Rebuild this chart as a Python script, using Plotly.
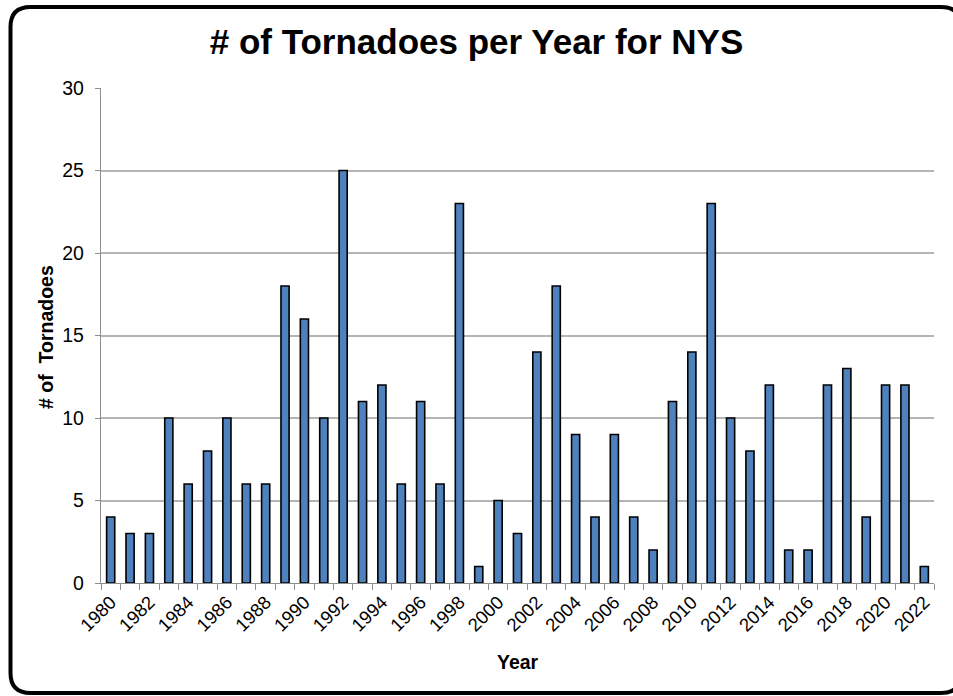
import plotly.graph_objects as go

# Annual tornado counts for New York State
years = list(range(1980, 2023))
tornadoes = [4, 3, 3, 10, 6, 8, 10, 6, 6, 18,
             16, 10, 25, 11, 12, 6, 11, 6, 23, 1,
             5, 3, 14, 18, 9, 4, 9, 4, 2, 11,
             14, 23, 10, 8, 12, 2, 2, 12, 13, 4,
             12, 12, 1]
year_labels = [str(y) for y in years[::2]]
y_ticks = [0, 5, 10, 15, 20, 25, 30]

W, H = 953, 696
ML, MR, MT, MB = 101, 19, 88, 113
PW, PH = W - ML - MR, H - MT - MB


def px(x):
    return (x - ML) / PW


def py(y):
    return (H - MB - y) / PH


def rounded_rect(x0, y0, x1, y1, r):
    pts = [
        ("M", [(x0 + r, y0)]),
        ("L", [(x1 - r, y0)]),
        ("Q", [(x1, y0), (x1, y0 + r)]),
        ("L", [(x1, y1 - r)]),
        ("Q", [(x1, y1), (x1 - r, y1)]),
        ("L", [(x0 + r, y1)]),
        ("Q", [(x0, y1), (x0, y1 - r)]),
        ("L", [(x0, y0 + r)]),
        ("Q", [(x0, y0), (x0 + r, y0)]),
    ]
    out = []
    for cmd, ps in pts:
        out.append(cmd + " " + " ".join(f"{px(a):.5f},{py(b):.5f}" for a, b in ps))
    return " ".join(out) + " Z"


FONT = "Liberation Sans, Arial, sans-serif"
GRID = "#B4B4B4"
AXIS = "#8E8E8E"

fig = go.Figure(
    go.Bar(
        x=years,
        y=tornadoes,
        width=0.42,
        marker=dict(color="#4F81BD", line=dict(color="#000000", width=1.6)),
        hoverinfo="x+y",
    )
)

fig.update_layout(
    width=W,
    height=H,
    margin=dict(l=ML, r=MR, t=MT, b=MB),
    paper_bgcolor="white",
    plot_bgcolor="white",
    showlegend=False,
    font=dict(family=FONT, color="#000000"),
    title=dict(
        text="<b># of Tornadoes per Year for NYS</b>",
        x=0.5,
        xref="container",
        xanchor="center",
        y=1 - 42 / H,
        yref="container",
        yanchor="middle",
        font=dict(size=35, family=FONT, color="#000000"),
    ),
    xaxis=dict(
        range=[1979.5, 2022.5],
        tickmode="array",
        tickvals=years[::2],
        ticktext=year_labels,
        tickangle=-45,
        ticks="",
        tickfont=dict(size=18.5, family=FONT, color="#000000"),
        showgrid=False,
        showline=True,
        linecolor=AXIS,
        linewidth=1.4,
        zeroline=False,
        minor=dict(
            ticks="outside",
            ticklen=6,
            tickwidth=1.4,
            tickcolor=AXIS,
            tick0=1979.5,
            dtick=1,
            showgrid=False,
        ),
    ),
    yaxis=dict(
        range=[0, 30],
        tickmode="array",
        tickvals=y_ticks,
        ticks="outside",
        ticklen=5,
        tickwidth=1.4,
        tickcolor=AXIS,
        ticklabelstandoff=7,
        tickfont=dict(size=19.5, family=FONT, color="#000000"),
        showgrid=True,
        gridcolor=GRID,
        gridwidth=1.6,
        showline=True,
        linecolor=AXIS,
        linewidth=1.4,
        zeroline=False,
    ),
    annotations=[
        dict(
            text="<b>Year</b>",
            xref="paper",
            yref="paper",
            x=0.5,
            y=py(662),
            xanchor="center",
            yanchor="middle",
            showarrow=False,
            font=dict(size=19.5, family=FONT, color="#000000"),
        ),
        dict(
            text="<b># of  Tornadoes</b>",
            xref="paper",
            yref="paper",
            x=px(46),
            y=py(337),
            xanchor="center",
            yanchor="middle",
            textangle=-90,
            showarrow=False,
            font=dict(size=19.5, family=FONT, color="#000000"),
        ),
    ],
    shapes=[
        dict(
            type="path",
            xref="paper",
            yref="paper",
            path=rounded_rect(10.5, 7, 961, 693, 20),
            line=dict(color="#000000", width=4),
            fillcolor="rgba(0,0,0,0)",
            layer="above",
        )
    ],
)

fig.write_html("out.html")
